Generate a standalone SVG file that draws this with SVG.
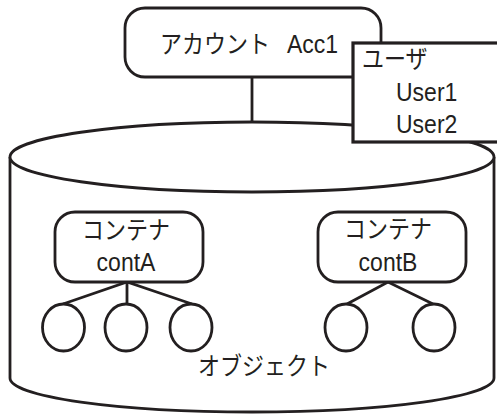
<svg xmlns="http://www.w3.org/2000/svg" width="497" height="414" viewBox="0 0 497 414">
<style>
.s{fill:#fff;stroke:#231f20;stroke-width:2.8}
.u{fill:#fff;stroke:#231f20;stroke-width:3.2}
.c{fill:none;stroke:#231f20;stroke-width:2.8}
text{font-family:"Liberation Sans","Noto Sans CJK JP",sans-serif;font-size:22px;fill:#231f20}
.l{font-size:23px}
.m{text-anchor:middle}
</style>
<rect width="497" height="414" fill="#fff"/>
<g id="storage">
<path class="s" d="M10,157 L10,378 A242,34 0 0 0 494,378 L494,157"/>
<ellipse class="s" cx="252" cy="157" rx="242" ry="35"/>
<text class="m" transform="translate(264,375) scale(1,1.12)">オブジェクト</text>
</g>
<g id="connectors">
<line class="c" x1="252" y1="77" x2="252" y2="122"/>
<polyline class="c" points="63,304 127,282 192,304"/>
<line class="c" x1="127" y1="282" x2="127" y2="304"/>
<polyline class="c" points="347,304 388,282 433,304"/>
</g>
<g id="account">
<rect class="s" x="125" y="8" width="256" height="69" rx="20"/>
<text transform="translate(160,53) scale(1,1.12)">アカウント <tspan class="l" x="127">Acc1</tspan></text>
</g>
<g id="users">
<rect class="u" x="353" y="43" width="160" height="99"/>
<text transform="translate(362,68) scale(1,1.12)">ユーザ</text>
<text class="l" transform="translate(396,101) scale(1,1.12)">User1</text>
<text class="l" transform="translate(396,133) scale(1,1.12)">User2</text>
</g>
<g id="contA">
<rect class="s" x="55" y="212" width="148" height="70" rx="20"/>
<text class="m" transform="translate(126,239) scale(1,1.12)">コンテナ</text>
<text class="m l" transform="translate(126,271) scale(1,1.12)">contA</text>
</g>
<g id="contB">
<rect class="s" x="318" y="212" width="148" height="70" rx="20"/>
<text class="m" transform="translate(388,238) scale(1,1.12)">コンテナ</text>
<text class="m l" transform="translate(388,271) scale(1,1.12)">contB</text>
</g>
<g id="objA1"><ellipse class="s" cx="63.5" cy="327.5" rx="21" ry="23.5"/></g>
<g id="objA2"><ellipse class="s" cx="126" cy="327.5" rx="21" ry="23.5"/></g>
<g id="objA3"><ellipse class="s" cx="191" cy="327.5" rx="21" ry="23.5"/></g>
<g id="objB1"><ellipse class="s" cx="346" cy="327.5" rx="21" ry="23.5"/></g>
<g id="objB2"><ellipse class="s" cx="434" cy="327.5" rx="21" ry="23.5"/></g>
</svg>
